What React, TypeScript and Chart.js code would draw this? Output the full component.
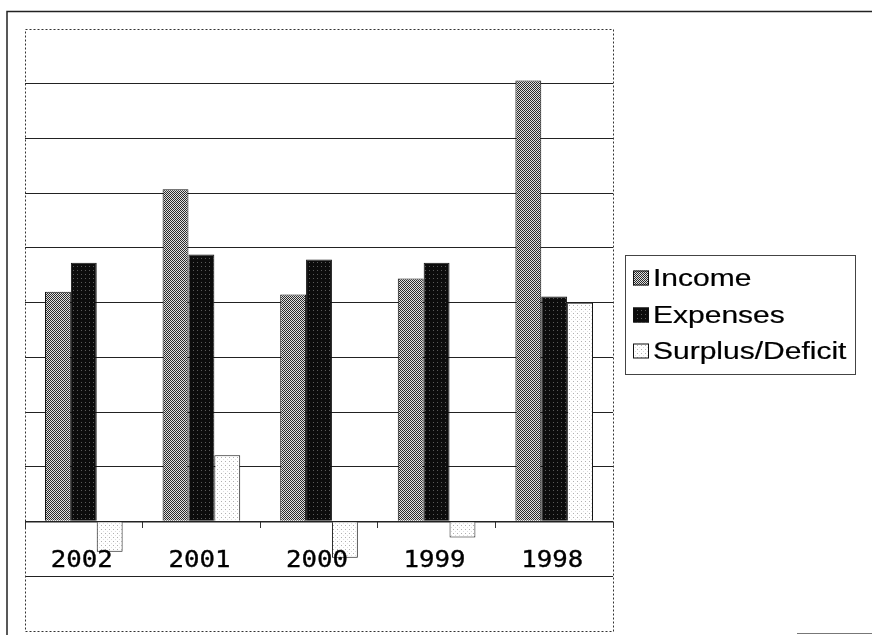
import React, { useEffect, useRef } from "react";
import { Chart, registerables } from "chart.js";

Chart.register(...registerables);

const categories = ["2002", "2001", "2000", "1999", "1998"];
const seriesNames = ["Income", "Expenses", "Surplus/Deficit"];
const income = [4.2, 6.07, 4.15, 4.44, 8.06];
const expenses = [4.73, 4.88, 4.79, 4.73, 4.11];
const surplus = [-0.55, 1.21, -0.66, -0.29, 4.0];
const yMin = -2;
const yMax = 9;

function makePattern(kind: string): CanvasPattern | string {
  const c = document.createElement("canvas");
  c.width = 4;
  c.height = 4;
  const g = c.getContext("2d");
  if (!g) return "#888";
  if (kind === "income") {
    for (let y = 0; y < 4; y++)
      for (let x = 0; x < 4; x++) {
        g.fillStyle = (x + y) % 2 === 0 ? "#2a2a2a" : "#e0e0e0";
        g.fillRect(x, y, 1, 1);
      }
  } else if (kind === "expenses") {
    g.fillStyle = "#0c0c0c";
    g.fillRect(0, 0, 4, 4);
    g.fillStyle = "#5a5a5a";
    g.fillRect(1, 2, 1, 1);
  } else {
    g.fillStyle = "#ffffff";
    g.fillRect(0, 0, 4, 4);
    g.fillStyle = "#b0b0b0";
    g.fillRect(1, 1, 1, 1);
    g.fillStyle = "#dddddd";
    g.fillRect(3, 3, 1, 1);
  }
  const ctx2 = document.createElement("canvas").getContext("2d");
  return (ctx2 && ctx2.createPattern(c, "repeat")) || "#888";
}

const framePlugin = {
  id: "frame",
  afterDraw(chart: any) {
    const ctx = chart.ctx as CanvasRenderingContext2D;
    const a = chart.chartArea;
    ctx.save();
    // outer frame
    ctx.strokeStyle = "#222";
    ctx.lineWidth = 1.5;
    ctx.beginPath();
    ctx.moveTo(7, 635);
    ctx.lineTo(7, 11.5);
    ctx.lineTo(872, 11.5);
    ctx.stroke();
    ctx.strokeStyle = "#777";
    ctx.lineWidth = 1;
    ctx.beginPath();
    ctx.moveTo(797, 633.5);
    ctx.lineTo(872, 633.5);
    ctx.stroke();
    // dotted plot border
    ctx.strokeStyle = "#333";
    ctx.lineWidth = 1;
    ctx.setLineDash([2, 2]);
    ctx.strokeRect(
      Math.round(a.left) + 0.5,
      Math.round(a.top) + 0.5,
      Math.round(a.right - a.left),
      Math.round(a.bottom - a.top)
    );
    ctx.setLineDash([]);
    // legend
    const lx = 625.5, ly = 255.5, lw = 230, lh = 119;
    ctx.fillStyle = "#fff";
    ctx.fillRect(lx, ly, lw, lh);
    ctx.strokeStyle = "#444";
    ctx.strokeRect(lx, ly, lw, lh);
    const rows = [278, 315, 351];
    chart.data.datasets.forEach((ds: any, i: number) => {
      const cy = rows[i];
      ctx.fillStyle = ds.backgroundColor;
      ctx.fillRect(633, cy - 7.5, 16, 15);
      ctx.strokeStyle = "#111";
      ctx.lineWidth = 1;
      ctx.strokeRect(633.5, cy - 7, 15, 14);
      ctx.save();
      ctx.translate(653, cy + 1);
      ctx.scale(1.25, 1.03);
      ctx.fillStyle = "#000";
      ctx.strokeStyle = "#000";
      ctx.lineWidth = 0.2;
      ctx.font = "24px 'Liberation Sans', Arial, sans-serif";
      ctx.textBaseline = "middle";
      ctx.textAlign = "left";
      ctx.fillText(ds.label, 0, 0);
      ctx.strokeText(ds.label, 0, 0);
      ctx.restore();
    });
    ctx.restore();
  },
  afterDatasetsDraw(chart: any) {
    const ctx = chart.ctx as CanvasRenderingContext2D;
    const xs = chart.scales.x;
    const ys = chart.scales.y;
    const y0 = ys.getPixelForValue(0);
    ctx.save();
    ctx.fillStyle = "#000";
    ctx.strokeStyle = "#000";
    ctx.lineWidth = 0.35;
    ctx.font = "23px 'DejaVu Sans Mono', monospace";
    ctx.textBaseline = "middle";
    ctx.textAlign = "center";
    chart.data.labels.forEach((lab: string, i: number) => {
      const x = xs.getPixelForValue(i);
      ctx.save();
      ctx.translate(x - 2, y0 + 39);
      ctx.scale(1.12, 1);
      ctx.fillText(lab, 0, 0);
      ctx.strokeText(lab, 0, 0);
      ctx.restore();
    });
    ctx.restore();
  },
};

export default function App() {
  const ref = useRef<HTMLCanvasElement | null>(null);
  useEffect(() => {
    if (!ref.current) return;
    const chart = new Chart(ref.current, {
      type: "bar",
      data: {
        labels: categories,
        datasets: [
          { label: seriesNames[0], data: income, backgroundColor: makePattern("income") as any, borderColor: "#111", borderWidth: 1 },
          { label: seriesNames[1], data: expenses, backgroundColor: makePattern("expenses") as any, borderColor: "#111", borderWidth: 1 },
          { label: seriesNames[2], data: surplus, backgroundColor: makePattern("surplus") as any, borderColor: "#111", borderWidth: 1 },
        ],
      },
      options: {
        animation: false,
        responsive: false,
        maintainAspectRatio: false,
        layout: { padding: { left: 25, top: 29, right: 259, bottom: 4 } },
        plugins: { legend: { display: false }, tooltip: { enabled: false } },
        datasets: { bar: { categoryPercentage: 0.66, barPercentage: 1.0 } },
        scales: {
          x: {
            position: { y: 0 } as any,
            offset: true,
            ticks: { display: false },
            grid: { drawOnChartArea: false, drawTicks: true, tickLength: 6, color: "#333", offset: true },
            border: { display: false },
          },
          y: {
            min: yMin,
            max: yMax,
            ticks: { display: false, stepSize: 1 },
            grid: {
              drawTicks: false,
              lineWidth: (c: any) => (c.tick && c.tick.value === 0 ? 1.5 : 1),
              color: (c: any) =>
                c.tick && (c.tick.value === yMax || c.tick.value === yMin) ? "rgba(0,0,0,0)" : "#222",
            },
            border: { display: false },
          },
        },
      },
      plugins: [framePlugin],
    });
    return () => chart.destroy();
  }, []);
  return (
    <div style={{ position: "fixed", left: 0, top: 0, width: 872, height: 635, background: "#fff" }}>
      <canvas ref={ref} width={872} height={635} style={{ display: "block" }} />
    </div>
  );
}
